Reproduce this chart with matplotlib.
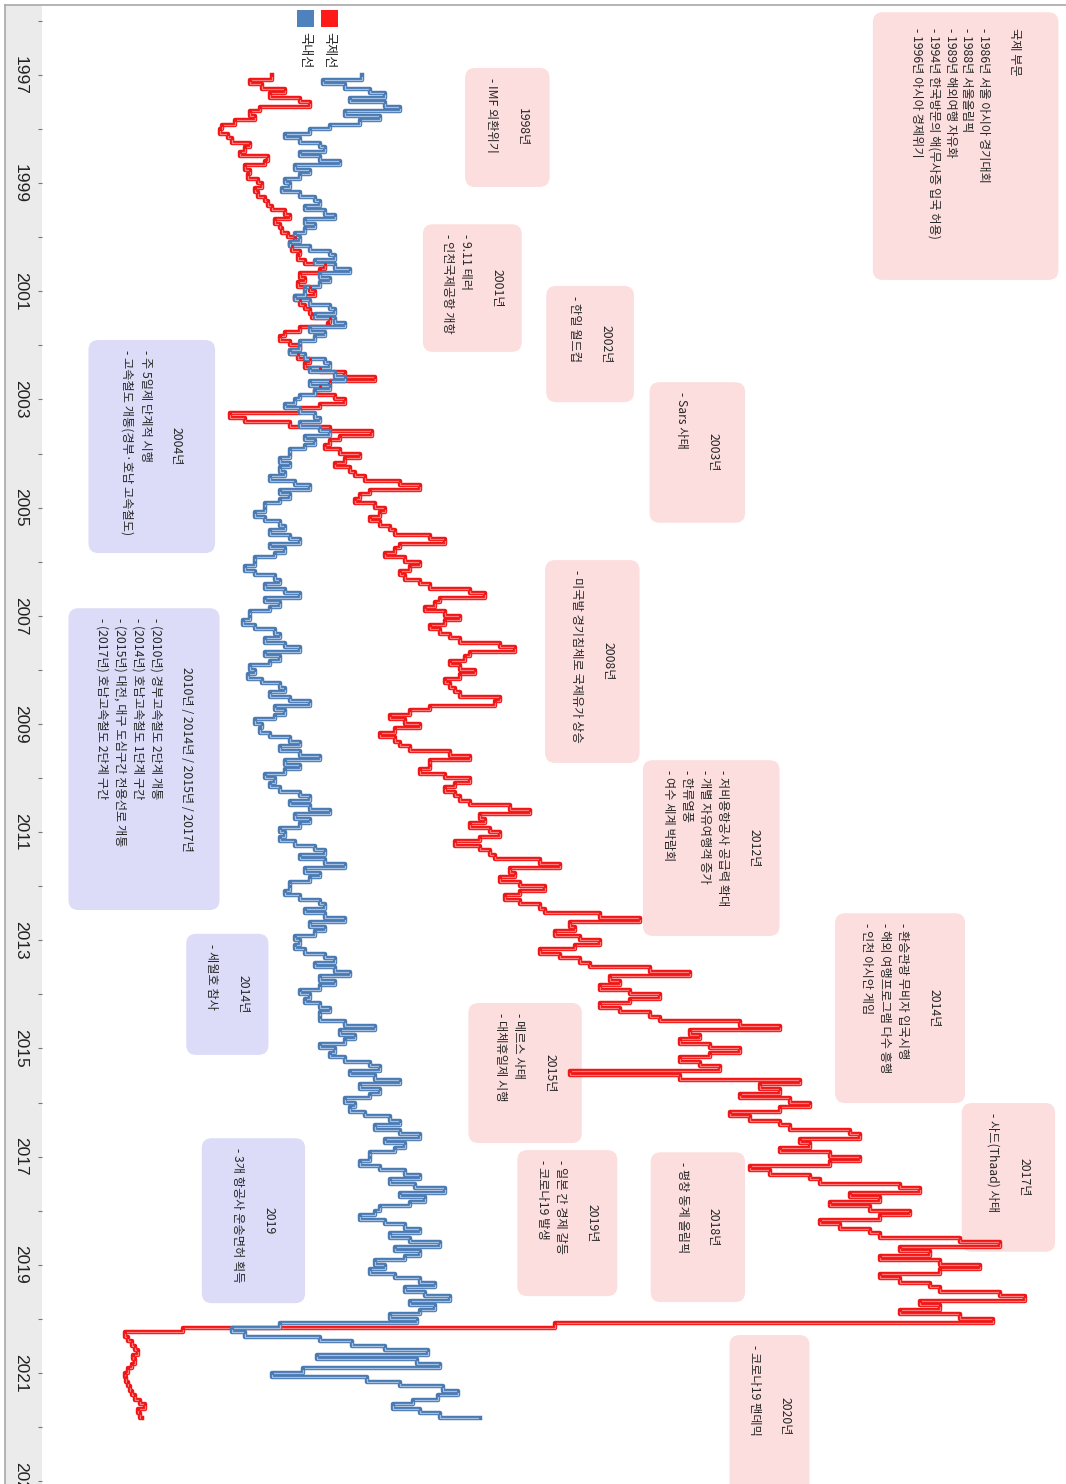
import numpy as np
import matplotlib.pyplot as plt
import matplotlib.patheffects as pe
from matplotlib.patches import FancyBboxPatch, Rectangle
from matplotlib.lines import Line2D
from matplotlib import font_manager

# 월별 항공 여객 (만 명), 1997년 1월 ~ 2021년 11월
intl = [
    142, 122, 133, 154, 140, 167, 176, 131, 122, 127, 109, 97,   # 1997
    95, 103, 106, 122, 118, 113, 139, 136, 118, 122, 121, 130,   # 1998
    133, 127, 130, 136, 139, 142, 154, 158, 145, 149, 151, 157,  # 1999
    163, 158, 160, 167, 166, 172, 190, 185, 167, 172, 166, 176,  # 2000
    181, 163, 167, 172, 176, 178, 194, 193, 167, 154, 149, 158,  # 2001
    167, 158, 166, 176, 172, 185, 208, 235, 194, 185, 181, 199,  # 2002
    208, 185, 167, 104, 118, 158, 194, 232, 203, 194, 190, 203,  # 2003
    221, 208, 199, 212, 217, 226, 257, 275, 230, 221, 217, 235,  # 2004
    244, 239, 230, 239, 248, 253, 284, 298, 257, 253, 244, 262,  # 2005
    275, 266, 257, 262, 275, 284, 320, 334, 293, 289, 280, 298,  # 2006
    311, 298, 284, 293, 302, 311, 347, 361, 320, 316, 302, 311,  # 2007
    325, 311, 298, 302, 307, 311, 347, 343, 284, 266, 248, 262,  # 2008
    275, 253, 239, 253, 257, 266, 302, 320, 284, 284, 275, 298,  # 2009
    320, 307, 298, 307, 311, 320, 356, 374, 329, 334, 320, 338,  # 2010
    347, 329, 307, 329, 338, 343, 383, 401, 356, 361, 347, 365,  # 2011
    388, 365, 352, 365, 383, 388, 437, 473, 410, 415, 397, 419,  # 2012
    437, 415, 383, 401, 419, 428, 482, 518, 446, 455, 437, 464,  # 2013
    491, 464, 437, 455, 482, 491, 563, 599, 518, 527, 509, 536,  # 2014
    563, 536, 509, 527, 545, 410, 509, 617, 581, 599, 563, 608,  # 2015
    626, 599, 554, 572, 599, 608, 662, 671, 617, 626, 599, 644,  # 2016
    671, 644, 572, 590, 626, 635, 707, 725, 662, 689, 644, 680,  # 2017
    716, 689, 635, 653, 680, 689, 761, 797, 707, 734, 689, 743,  # 2018
    779, 743, 689, 707, 734, 743, 797, 820, 725, 743, 707, 761,  # 2019
    791, 397, 62, 10, 13, 16, 19, 22, 17, 19, 16, 13,            # 2020
    10, 11, 13, 14, 16, 19, 23, 28, 22, 23, 25,                  # 2021
]

dom = [
    223, 188, 208, 230, 244, 212, 244, 257, 208, 239, 221, 194,  # 1997
    176, 154, 167, 185, 190, 167, 185, 203, 163, 176, 167, 154,  # 1998
    158, 151, 167, 181, 185, 172, 190, 199, 172, 181, 172, 163,  # 1999
    167, 158, 176, 194, 199, 181, 199, 212, 185, 194, 185, 172,  # 2000
    172, 163, 176, 194, 199, 181, 199, 208, 176, 190, 181, 167,  # 2001
    167, 158, 172, 190, 194, 176, 199, 208, 176, 194, 181, 167,  # 2002
    163, 154, 167, 181, 185, 167, 185, 194, 172, 181, 172, 158,  # 2003
    158, 149, 158, 149, 154, 140, 163, 176, 149, 158, 149, 136,  # 2004
    136, 127, 136, 149, 154, 140, 158, 167, 140, 154, 145, 127,  # 2005
    127, 118, 127, 145, 149, 136, 154, 167, 136, 149, 140, 122,  # 2006
    122, 116, 127, 145, 149, 136, 154, 167, 136, 149, 140, 122,  # 2007
    127, 121, 133, 149, 154, 140, 158, 176, 145, 154, 145, 127,  # 2008
    133, 131, 140, 158, 167, 149, 167, 185, 154, 167, 154, 136,  # 2009
    145, 140, 149, 167, 176, 158, 176, 194, 163, 176, 167, 149,  # 2010
    154, 149, 163, 181, 190, 167, 190, 208, 172, 185, 176, 158,  # 2011
    158, 154, 167, 185, 190, 172, 190, 208, 176, 190, 181, 163,  # 2012
    167, 163, 172, 190, 199, 181, 199, 212, 185, 199, 185, 167,  # 2013
    176, 172, 185, 194, 185, 185, 208, 235, 203, 217, 208, 185,  # 2014
    199, 194, 208, 230, 239, 212, 235, 257, 221, 239, 230, 208,  # 2015
    217, 212, 226, 248, 257, 235, 257, 275, 244, 262, 253, 230,  # 2016
    230, 221, 239, 262, 275, 248, 271, 298, 257, 280, 266, 239,  # 2017
    235, 221, 244, 262, 275, 248, 266, 293, 253, 275, 262, 235,  # 2018
    244, 230, 253, 275, 289, 262, 280, 302, 266, 289, 275, 248,  # 2019
    273, 149, 106, 118, 185, 214, 244, 283, 183, 273, 293, 170,  # 2020
    142, 228, 257, 296, 310, 292, 269, 251, 275, 293, 329,       # 2021
]

start_year = 1997
label_years = list(range(1997, 2024, 2))
minor_years = list(range(1996, 2024, 2))

# 주석 상자: (x0, x1, 시작연도, 끝연도, 색, 제목, 항목)
PINK = '#fcdede'
LAV = '#dcdcf8'
notes = [
    (683, 850, 1995.84, 2000.79, PINK, '국제 부문',
     ['- 1986년 서울 아시아 경기대회', '- 1988년 서울올림픽', '- 1989년 해외여행 자유화',
      '- 1994년 한국방문의 해(무사증 입국 허용)', '- 1996년 아시아 경제위기']),
    (316, 392, 1996.87, 1999.07, PINK, '1998년', ['- IMF 외환위기']),
    (278, 367, 1999.76, 2002.12, PINK, '2001년', ['- 9.11 테러', '- 인천국제공항 개항']),
    (389, 468, 2000.90, 2003.05, PINK, '2002년', ['- 한일 월드컵']),
    (482, 568, 2002.68, 2005.28, PINK, '2003년', ['- Sars 사태']),
    (-23, 91, 2001.90, 2005.84, LAV, '2004년',
     ['- 주 5일제 단계적 시행', '- 고속철도 개통(경부·호남 고속철도)']),
    (388, 473, 2005.97, 2009.72, PINK, '2008년', ['- 미국발 경기침체로 국제유가 상승']),
    (-41, 95, 2006.86, 2012.44, LAV, '2010년 / 2014년 / 2015년 / 2017년',
     ['- (2010년) 경부고속철도 2단계 개통', '- (2014년) 호남고속철도 1단계 구간',
      '- (2015년) 대전, 대구 도심구간 전용선로 개통', '- (2017년) 호남고속철도 2단계 구간']),
    (476, 599, 2009.67, 2012.92, PINK, '2012년',
     ['- 저비용항공사 공급력 확대', '- 개별 자유여행객 증가', '- 한류열풍', '- 여수 세계 박람회']),
    (65, 139, 2012.88, 2015.12, LAV, '2014년', ['- 세월호 참사']),
    (649, 766, 2012.50, 2016.01, PINK, '2014년',
     ['- 환승관광 무비자 입국시행', '- 해외 여행프로그램 다수 흥행', '- 인천 아시안 게임']),
    (319, 421, 2014.16, 2016.75, PINK, '2015년', ['- 메르스 사태', '- 대체휴일제 시행']),
    (763, 847, 2016.01, 2018.76, PINK, '2017년', ['- 사드(Thaad) 사태']),
    (79, 172, 2016.66, 2019.71, LAV, '2019', ['- 3개 항공사 운송면허 획득']),
    (363, 453, 2016.88, 2019.58, PINK, '2019년', ['- 일본 간 경제 갈등', '- 코로나19 발생']),
    (483, 568, 2016.92, 2019.69, PINK, '2018년', ['- 평창 동계 올림픽']),
    (554, 626, 2020.30, 2023.30, PINK, '2020년', ['- 코로나19 팬데믹']),
]

names = {f.name for f in font_manager.fontManager.ttflist}
num_font = 'Liberation Sans Narrow' if 'Liberation Sans Narrow' in names else 'Liberation Sans'
kr_font = ['Noto Sans CJK KR', 'DejaVu Sans']
TXT = '#262626'
FS = 8.8

W, H = 1066, 1484
fig = plt.figure(figsize=(W / 100, H / 100), dpi=100)
fig.patch.set_facecolor('white')

# 왼쪽 회색 띠와 테두리
fig.add_artist(Rectangle((5 / W, 0), 37 / W, 1 - 5 / H, transform=fig.transFigure,
                         fc='#ebebeb', ec='none', zorder=0))
fig.add_artist(Line2D([5 / W, 1], [1 - 5 / H] * 2, transform=fig.transFigure,
                      color='#a8a8a8', lw=1.2))
fig.add_artist(Line2D([5 / W] * 2, [0, 1 - 5 / H], transform=fig.transFigure,
                      color='#a8a8a8', lw=1.2))

ax = fig.add_axes([42 / W, 0, 1 - 42 / W, 1 - 5 / H])
ax.set_xlim(-64.8, 856.8)
ax.set_ylim(1997 + (1484 - 75) / 54.08, 1997 - 70 / 54.08)
for s in ax.spines.values():
    s.set_visible(False)
ax.set_xticks([])

t_intl = start_year + np.arange(len(intl)) / 12
t_dom = start_year + np.arange(len(dom)) / 12

series = [(intl, t_intl, '#f01616', '#ff7a7a'), (dom, t_dom, '#4a7ab2', '#a2bfe2')]
for vals, t, edge, core in series:
    ln, = ax.plot(vals, t, drawstyle='steps-pre', color=core, lw=0.9, zorder=3)
    ln.set_path_effects([pe.Stroke(linewidth=3.2, foreground=edge), pe.Normal()])
    ax.plot(vals, t, 'o', ms=2.2, color=edge, mec='none', zorder=4)

ax.set_yticks(label_years)
ax.set_yticks(minor_years, minor=True)
ax.set_yticklabels([str(y) for y in label_years], rotation=270, va='center',
                   fontfamily=num_font, fontsize=12.5, color='#222222')
ax.tick_params(axis='y', which='both', length=3, width=0.8, color='#777777', pad=7)

# 주석 상자
px_x = 0.9          # 가로 1 px 당 값
px_t = 1 / 54.08    # 세로 1 px 당 연도
rad = 10 * px_x
for x0, x1, t0, t1, col, title, items in notes:
    box = FancyBboxPatch((x0, t0), x1 - x0, t1 - t0,
                         boxstyle=f'round,pad=0,rounding_size={rad}',
                         mutation_aspect=px_t / px_x, fc=col, ec='none', zorder=1)
    ax.add_patch(box)
    cx = (x0 + x1) / 2
    n = len(items)
    step = 16.7 if n >= 5 else 18
    span = 31 + (n - 1) * step
    if title == '국제 부문':
        ax.annotate(title, (cx, t0), xytext=(span / 2 * 0.72, -16 * 0.72),
                    textcoords='offset points', rotation=270, ha='center', va='top',
                    fontsize=FS, family=kr_font, color=TXT, zorder=2)
        top_pad = 16
    else:
        ax.annotate(title, (cx, (t0 + t1) / 2), xytext=(span / 2 * 0.72, 0),
                    textcoords='offset points', rotation=270, ha='center', va='center',
                    fontsize=FS, family=kr_font, color=TXT, zorder=2)
        top_pad = 10
    for k, item in enumerate(items):
        dx = span / 2 - 31 - k * step
        ax.annotate(item, (cx, t0), xytext=(dx * 0.72, -top_pad * 0.72),
                    textcoords='offset points', rotation=270, ha='center', va='top',
                    fontsize=FS, family=kr_font, color=TXT, zorder=2)

# 범례
def ax_frac(px, py):
    return (px - 42) / (W - 42), (H - py) / (H - 5)

for label, col, xc in [('국제선', '#ff1a1a', 329), ('국내선', '#4f81bd', 305)]:
    x, y = ax_frac(xc - 8.5, 27)
    ax.add_patch(Rectangle((x, y), 17 / (W - 42), 17 / (H - 5), transform=ax.transAxes,
                           fc=col, ec='none', zorder=5))
    x, y = ax_frac(xc, 50)
    ax.text(x, y, label, transform=ax.transAxes, rotation=270, ha='center', va='center',
            fontsize=9.5, family=kr_font, color='#222222', zorder=5)

fig.savefig('out.png', dpi=100)
